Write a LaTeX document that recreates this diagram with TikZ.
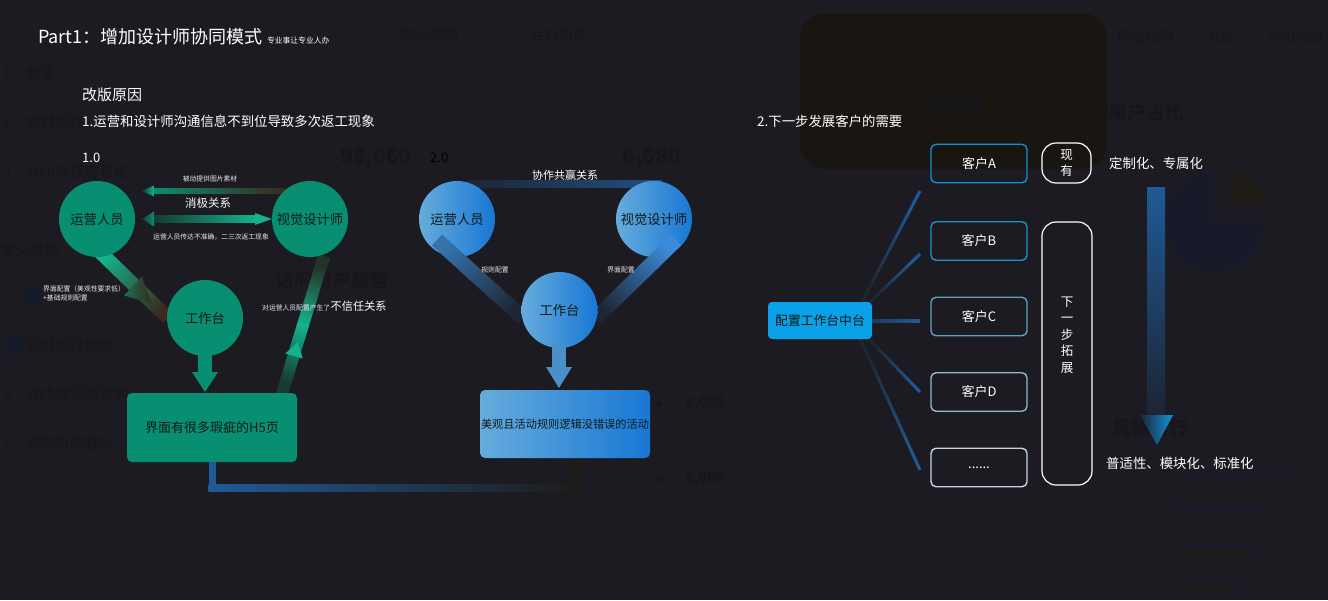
\documentclass[tikz,border=0pt]{standalone}
\usepackage{fontspec}
\setmainfont{Noto Sans CJK SC}
\usetikzlibrary{calc}

\definecolor{bg}{HTML}{1C1B22}
\definecolor{ghost}{HTML}{17161C}
\definecolor{panelc}{HTML}{191612}
\definecolor{navyg}{HTML}{161A29}
\definecolor{browng}{HTML}{1F1B17}
\definecolor{tealg}{HTML}{088E70}
\definecolor{tealb}{HTML}{13B38E}
\definecolor{tealdk}{HTML}{173A31}
\definecolor{brownd}{HTML}{3B2A1C}
\definecolor{bluel}{HTML}{66ACDC}
\definecolor{blued}{HTML}{1877D4}
\definecolor{bluebar}{HTML}{1F5A96}
\definecolor{bluedk}{HTML}{1E2533}
\definecolor{arrowblue}{HTML}{4A8FC8}
\definecolor{hubc}{HTML}{0BA1E8}
\definecolor{darktxt}{HTML}{0E1A17}
\definecolor{cAc}{HTML}{118FD2}
\definecolor{cBc}{HTML}{1B93CB}
\definecolor{cCc}{HTML}{5BA3C4}
\definecolor{cDc}{HTML}{8CBBCE}
\definecolor{cEc}{HTML}{C3D7E0}

% gradient band between two named coordinates: from, to, half width, colour at from, colour at to
\newcommand{\gradbar}[5]{%
  \pgfmathanglebetweenpoints{\pgfpointanchor{#1}{center}}{\pgfpointanchor{#2}{center}}%
  \pgfmathsetmacro\gbang{\pgfmathresult-90}%
  \shade[bottom color=#4, top color=#5, shading angle=\gbang]
    ($(#1)!#3!90:(#2)$) -- ($(#2)!#3!-90:(#1)$) -- ($(#2)!#3!90:(#1)$) -- ($(#1)!#3!-90:(#2)$) -- cycle;}
\newcommand{\gradbarm}[6]{%
  \pgfmathanglebetweenpoints{\pgfpointanchor{#1}{center}}{\pgfpointanchor{#2}{center}}%
  \pgfmathsetmacro\gbang{\pgfmathresult-90}%
  \shade[bottom color=#4, top color=#6, middle color=#5, shading angle=\gbang]
    ($(#1)!#3!90:(#2)$) -- ($(#2)!#3!-90:(#1)$) -- ($(#2)!#3!90:(#1)$) -- ($(#1)!#3!-90:(#2)$) -- cycle;}

\begin{document}
\begin{tikzpicture}[x=1pt,y=-1pt,
  txt/.style={inner sep=0pt, text=white},
  tiny/.style={inner sep=0pt, text=white!92!black, font=\fontsize{6.8}{8}\selectfont},
  ghosttxt/.style={inner sep=0pt, text=ghost},
  tcirc/.style={circle, fill=tealg, minimum size=76pt, inner sep=0pt, text=darktxt, font=\fontsize{13.3}{16}\selectfont},
  bcirc/.style={circle, left color=bluel, right color=blued, minimum size=76pt, inner sep=0pt, text=darktxt, font=\fontsize{13.3}{16}\selectfont},
  cbox/.style={draw=#1, line width=1.4pt, rounded corners=5pt, minimum width=96pt, minimum height=38.5pt, inner sep=0pt, text=white, font=\fontsize{13}{15}\selectfont},
  wbox/.style={draw=white, line width=1.2pt, rounded corners=14pt, inner sep=0pt, text=white}
]
\useasboundingbox (0,0) rectangle (1328,600);
\fill[bg] (0,0) rectangle (1328,600);

% ---------- faint background dashboard ----------
\fill[panelc, rounded corners=25pt] (800,13) rectangle (1107,169);
\begin{scope}[font=\fontsize{14.5}{16}\selectfont]
\node[ghosttxt, anchor=west] at (26,73) {概览};
\node[ghosttxt, anchor=west] at (26,122) {实时监控};
\node[ghosttxt, anchor=west] at (26,172) {Web端获客看板};
\node[ghosttxt, anchor=west] at (1,250) {定义看板};
\node[ghosttxt, anchor=west] at (26,345) {实时监控模板};
\node[ghosttxt, anchor=west] at (26,393) {Web端获客看板};
\node[ghosttxt, anchor=west] at (26,443) {添加新的看板};
\node[ghosttxt] at (7,73) {1};
\node[ghosttxt] at (7,122) {2};
\node[ghosttxt] at (7,172) {3};
\node[ghosttxt] at (7,393) {3};
\node[ghosttxt] at (7,443) {+};
\node[ghosttxt, anchor=west] at (400,35) {时间范围};
\node[ghosttxt, anchor=west] at (530,35) {目标用户};
\node[ghosttxt] at (1145,37) {移动应用};
\node[ghosttxt] at (1222,37) {IOS};
\node[ghosttxt] at (1296,37) {Android};
\end{scope}
\fill[navyg] (33,296) circle (10);
\fill[navyg] (14,345) circle (11);
\begin{scope}[font=\fontsize{21}{24}\selectfont\bfseries]
\node[ghosttxt] at (376,158) {98,060};
\node[ghosttxt] at (652,158) {6,680};
\node[ghosttxt] at (955,105) {6,680};
\end{scope}
\begin{scope}[font=\fontsize{19}{22}\selectfont\bfseries]
\node[ghosttxt] at (332,280) {访问用户趋势};
\node[ghosttxt] at (1146,112) {用户占比};
\node[ghosttxt] at (1150,428) {风格排行};
\end{scope}
\begin{scope}[font=\fontsize{14}{16}\selectfont\bfseries]
\node[ghosttxt] at (705,404) {5,000};
\node[ghosttxt] at (705,479) {5,000};
\end{scope}
\fill[ghost] (659,404) circle (3); \fill[ghost] (659,479) circle (3);
\fill[navyg] (1214,222) -- ++(0:50) arc[start angle=0, end angle=270, radius=50] -- cycle;
\fill[browng] (1232,205) -- (1232,172) arc[start angle=270, end angle=360, radius=33] -- cycle;
\foreach \yy/\la/\lb in {476/1287/1272, 510/1270/1232, 545/1256/1248, 581/1253/1232}{
  \fill[navyg] (1175,\yy-1.5) rectangle (\la,\yy+1.5);
  \fill[browng] (1175,\yy+6) rectangle (\lb,\yy+9);
}

% ---------- header texts ----------
\node[txt, anchor=west, font=\fontsize{18}{20}\selectfont] (title) at (38,37) {Part1：增加设计师协同模式};
\node[txt, anchor=base west, font=\fontsize{7.8}{9}\selectfont] at ([xshift=4pt]title.base east) {专业事让专业人办};
\node[txt, anchor=west, font=\fontsize{15}{17}\selectfont] (gb) at (82,95) {改版原因};
\node[txt, anchor=west, font=\fontsize{13.4}{15}\selectfont] (r1) at (82,121) {1.运营和设计师沟通信息不到位导致多次返工现象};
\node[txt, anchor=west, font=\fontsize{13}{15}\selectfont] (v1) at (82,158) {1.0};
\node[inner sep=0pt, text=black, anchor=west, font=\fontsize{13}{15}\selectfont] (v2) at (430,158) {2.0};
\node[txt, anchor=west, font=\fontsize{13.4}{15}\selectfont] (r2) at (757,121) {2.下一步发展客户的需要};

% ---------- diagram 1.0 ----------
% band ops -> workbench
\coordinate (b1s) at (98,250); \coordinate (b1e) at (168,318);
\gradbar{b1s}{b1e}{7pt}{tealb}{brownd}
\coordinate (h1b) at (133,286); \coordinate (h1t) at (152,304);
\shade[left color=tealg!70!brownd, right color=brownd] ($(h1b)!13pt!90:(h1t)$) -- (h1t) -- ($(h1b)!13pt!-90:(h1t)$) -- cycle;
% band H5 box -> designer
\coordinate (b2s) at (282,394); \coordinate (b2e) at (324,256);
\gradbarm{b2s}{b2e}{6pt}{tealdk}{tealb}{tealdk!60!brownd}
\coordinate (h2b) at (294,356); \coordinate (h2t) at (298,342);
\fill[tealb] ($(h2b)!9pt!90:(h2t)$) -- (h2t) -- ($(h2b)!9pt!-90:(h2t)$) -- cycle;

% upper arrow designer -> ops
\shade[left color=tealg, middle color=tealb, right color=brownd] (154,188.5) rectangle (285,193.5);
\shade[left color=tealdk, right color=tealb] (142,191) -- (154,185.5) -- (154,196.5) -- cycle;
% lower double arrow
\shade[left color=tealdk, right color=tealb] (154,215.5) rectangle (255,222.5);
\shade[left color=tealdk, right color=tealg] (142,219) -- (154,211.5) -- (154,226.5) -- cycle;
\fill[tealb] (255,213) -- (272,219) -- (255,225) -- cycle;

\node[tcirc] (ops) at (97,219) {运营人员};
\node[tcirc] (des) at (310,219) {视觉设计师};
\node[tcirc] (wt) at (205,318) {工作台};

% arrow workbench -> H5 box
\fill[tealg] (198,349) rectangle (212,372);
\fill[tealg] (192,372) -- (218,372) -- (205,392) -- cycle;
\node[fill=tealg, rounded corners=5pt, minimum width=170pt, minimum height=69pt, inner sep=0pt, text=darktxt, font=\fontsize{13}{15}\selectfont] (h5) at (212,427.5) {界面有很多瑕疵的H5页};

\node[tiny] at (210,179) {被动提供图片素材};
\node[txt, font=\fontsize{11.5}{13}\selectfont] at (208,203) {消极关系};
\node[tiny] at (211,237) {运营人员传达不准确，二三次返工现象};
\node[tiny, anchor=west] at (43,289) {界面配置（美观性要求低）};
\node[tiny, anchor=west] at (43,297.5) {+基础规则配置};
\node[tiny, anchor=base west] (nx1) at (262,310) {对运营人员配置产生了};
\node[txt, anchor=base west, font=\fontsize{11.2}{13}\selectfont] at (nx1.base east) {不信任关系};

% connector from H5 box to 2.0 box
\fill[bluebar] (208.5,462) rectangle (215.5,491);
\shade[left color=bluebar, right color=browng!80!bg] (208.5,484.5) rectangle (580,491);
\fill[browng] (573,458) rectangle (580,491);

% ---------- diagram 2.0 ----------
\shade[left color=bluedk, right color=bluebar!85!bg] (467,180.5) rectangle (662,187.5);
\node[txt, font=\fontsize{11}{13}\selectfont] at (565,175) {协作共赢关系};
\node[bcirc] (ops2) at (457,219) {运营人员};
\node[bcirc] (des2) at (654,219) {视觉设计师};
\coordinate (b3s) at (437,240); \coordinate (b3e) at (523,318);
\gradbar{b3s}{b3e}{7.5pt}{bluebar!70!bluel}{bluedk}
\coordinate (b4s) at (676,240); \coordinate (b4e) at (596,318);
\gradbar{b4s}{b4e}{7.5pt}{blued!85!white}{bluedk}
\node[bcirc] (wt2) at (559.5,310) {工作台};
\node[tiny] at (495,270) {规则配置};
\node[tiny] at (621,270) {界面配置};
\fill[arrowblue] (552,345) rectangle (566,367);
\fill[arrowblue] (546,367) -- (572,367) -- (559,388) -- cycle;
\node[left color=bluel, right color=blued, rounded corners=5pt, minimum width=170pt, minimum height=68pt, inner sep=0pt, text=darktxt, font=\fontsize{11.2}{13}\selectfont] (bb) at (565,424) {美观且活动规则逻辑没错误的活动};

% ---------- section 2 ----------
\coordinate (fA1) at (862,302); \coordinate (fA2) at (920,191);
\coordinate (fB1) at (868,304); \coordinate (fB2) at (920,254);
\coordinate (fC1) at (870,321); \coordinate (fC2) at (920,321);
\coordinate (fD1) at (868,338); \coordinate (fD2) at (920,392);
\coordinate (fE1) at (860,338); \coordinate (fE2) at (920,470);
\gradbar{fA1}{fA2}{1.5pt}{bluedk}{bluebar}
\gradbar{fB1}{fB2}{1.5pt}{bluedk}{bluebar}
\gradbar{fC1}{fC2}{1.5pt}{bluedk!60!bluebar}{bluebar}
\gradbar{fD1}{fD2}{1.5pt}{bluedk}{bluebar}
\gradbar{fE1}{fE2}{1.5pt}{bluedk}{bluebar}
\node[fill=hubc, rounded corners=4pt, minimum width=104pt, minimum height=37pt, inner sep=0pt, text=darktxt, font=\fontsize{12.8}{15}\selectfont] (hub) at (820,320.5) {配置工作台中台};

\node[cbox=cAc] (cA) at (979,163.5) {客户A};
\node[cbox=cBc] (cB) at (979,241) {客户B};
\node[cbox=cCc] (cC) at (979,316.5) {客户C};
\node[cbox=cDc] (cD) at (979,392) {客户D};
\node[cbox=cEc] (cE) at (979,467.5) {......};

\node[wbox, minimum width=49pt, minimum height=40pt, align=center, font=\fontsize{12.5}{16}\selectfont] (xy) at (1066.5,163) {现\\有};
\node[wbox, minimum width=50pt, minimum height=263pt] (nx) at (1067,353.5) {};
\node[txt, align=center, font=\fontsize{12.5}{16.5}\selectfont] (nxt) at (1067,335) {下\\一\\步\\拓\\展};

\node[txt, anchor=west, font=\fontsize{13.4}{15}\selectfont] (t1) at (1109,163) {定制化、专属化};
\shade[top color=bluebar, bottom color=bg!85!bluebar] (1147,187) rectangle (1165,415);
\shade[left color=bluedk, right color=blued!80!cyan] (1140,415) -- (1173,415) -- (1157,445) -- cycle;
\node[txt, anchor=west, font=\fontsize{13.4}{15}\selectfont] (t2) at (1106,463) {普适性、模块化、标准化};
\end{tikzpicture}
\end{document}
